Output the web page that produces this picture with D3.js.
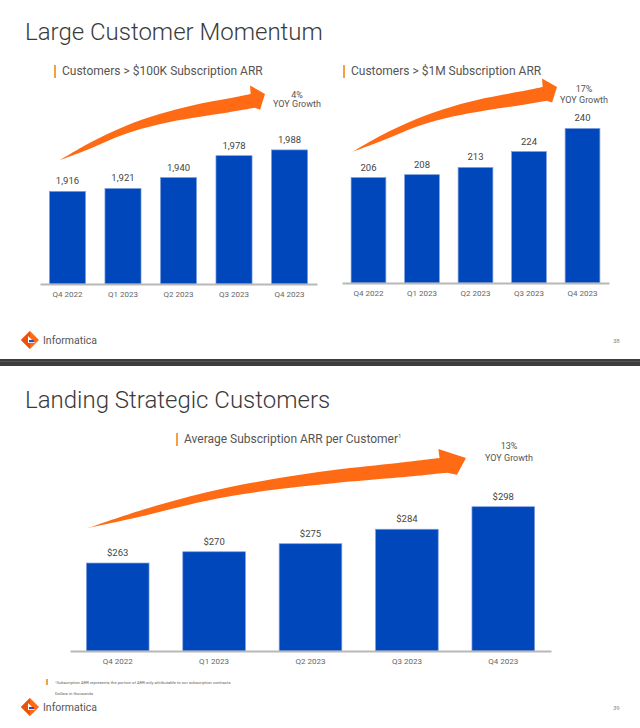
<!DOCTYPE html>
<html>
<head>
<meta charset="utf-8">
<script src="https://cdn.jsdelivr.net/npm/d3@7"></script>
<style>
  html, body { margin: 0; padding: 0; background: #fff; }
  svg { display: block; font-family: Roboto, "Noto Sans", sans-serif; }
</style>
</head>
<body>
<svg id="chart" width="640" height="728"></svg>
<script>
// ---------- data ----------
const categories = ["Q4 2022", "Q1 2023", "Q2 2023", "Q3 2023", "Q4 2023"];
const customers100K = [1916, 1921, 1940, 1978, 1988];
const customers1M = [206, 208, 213, 224, 240];
const avgSubscriptionARR = [263, 270, 275, 284, 298];
const growthLabels = ["4%", "17%", "13%"];
const pageTitles = ["Large Customer Momentum", "Landing Strategic Customers"];
const chartTitles = ["Customers > $100K Subscription ARR", "Customers >  $1M Subscription ARR", "Average Subscription ARR per Customer"];
const pageNumbers = ["38", "39"];
const footnotes = ["\u00B9Subscription ARR represents the portion of ARR only attributable to our subscription contracts", "Dollars in thousands"];

// ---------- style ----------
const BLUE = "#0047BB";
const ARROW = "#FF6B15";
const ACCENT = "#F5A040";
const TEXT = "#444";

const svg = d3.select("#chart");

// ---------- layout of panels ----------
const panels = [
  { values: customers100K, fmt: d3.format(","), domain: [1755, 2000],
    x0: 40, x1: 317, base: 284, top: 143, labelGap: 7,
    title: chartTitles[0], titleX: 62, titleY: 75,
    arrowT: [60, 160], arrowP: [265, 94],
    growth: growthLabels[0], gX: 297, gY: 97.5, gDy: 9.8 },
  { values: customers1M, fmt: d3.format(","), domain: [133, 250],
    x0: 342, x1: 609, base: 283, top: 114, labelGap: 7,
    title: chartTitles[1], titleX: 351, titleY: 75,
    arrowT: [352, 152], arrowP: [557, 87],
    growth: growthLabels[1], gX: 584, gY: 91.5, gDy: 11 },
  { values: avgSubscriptionARR, fmt: v => "$" + v, domain: [208.3, 300],
    x0: 70, x1: 551, base: 651, top: 503.5, labelGap: 7,
    title: chartTitles[2], titleX: 184, titleY: 443, sup: "1",
    arrowT: [88, 528], arrowP: [466, 458],
    growth: growthLabels[2], gX: 509, gY: 449, gDy: 11.6 }
];

// normalized swoosh arrow shape (u along x, v along y from tail to tip)
const upperEdge = [[0,0],[0.137,0.247],[0.314,0.509],[0.49,0.70],[0.65,0.83],[0.82,0.93],[0.93,1.0]];
const headPts = [[0.927,1.13],[1,1],[0.976,0.76]];
const lowerEdge = [[0.95,0.79],[0.82,0.72],[0.65,0.64],[0.49,0.545],[0.314,0.39],[0.137,0.16],[0,0]];

function arrowPath(T, P) {
  const sx = d3.scaleLinear().domain([0,1]).range([T[0], P[0]]);
  const sy = d3.scaleLinear().domain([0,1]).range([T[1], P[1]]);
  const m = d => [sx(d[0]), sy(d[1])];
  const line = d3.line().curve(d3.curveCatmullRom.alpha(0.5));
  const up = line(upperEdge.map(m));
  const lo = line(lowerEdge.map(m));
  const hd = headPts.map(m).map(p => "L" + p[0] + "," + p[1]).join("");
  return up + hd + "L" + lo.slice(1) + "Z";
}

// ---------- page titles ----------
svg.append("text").attr("x", 25).attr("y", 40).text(pageTitles[0])
  .attr("font-size", 24).attr("font-weight", 300).attr("fill", "#3a3a3a");
svg.append("text").attr("x", 25).attr("y", 408).text(pageTitles[1])
  .attr("font-size", 24).attr("font-weight", 300).attr("fill", "#3a3a3a");

// separator between slides
svg.append("rect").attr("x", 0).attr("y", 359).attr("width", 640).attr("height", 7).attr("fill", "#3d3d3d");
svg.append("rect").attr("x", 0).attr("y", 361).attr("width", 640).attr("height", 1).attr("fill", "#555");

// ---------- panels ----------
panels.forEach(p => {
  const g = svg.append("g");
  const x = d3.scaleBand().domain(categories).range([p.x0, p.x1])
    .paddingInner(0.35).paddingOuter(0.17);
  const y = d3.scaleLinear().domain(p.domain).range([p.base, p.top]);

  // chart title with accent bar
  g.append("rect").attr("x", p.titleX - 8).attr("y", p.titleY - 10).attr("width", 2).attr("height", 13).attr("fill", ACCENT);
  const t = g.append("text").attr("x", p.titleX).attr("y", p.titleY)
    .attr("font-size", 12).attr("fill", "#555").text(p.title);
  if (p.sup) t.append("tspan").attr("font-size", 6).attr("dy", -5).text(p.sup);

  // bars
  g.selectAll("rect.bar").data(p.values).join("rect").attr("class", "bar")
    .attr("x", (d, i) => x(categories[i]))
    .attr("y", d => y(d))
    .attr("width", x.bandwidth())
    .attr("height", d => p.base - y(d))
    .attr("fill", BLUE).attr("stroke", "#7d9fe0").attr("stroke-width", 0.7);

  // value labels
  g.selectAll("text.val").data(p.values).join("text").attr("class", "val")
    .attr("x", (d, i) => x(categories[i]) + x.bandwidth() / 2)
    .attr("y", d => y(d) - p.labelGap)
    .attr("text-anchor", "middle").attr("font-size", 9.5).attr("fill", TEXT)
    .text(d => p.fmt(d));

  // axis
  const axis = g.append("g").attr("transform", `translate(0,${p.base})`)
    .call(d3.axisBottom(x).tickSize(0).tickPadding(7.5));
  axis.select(".domain").attr("stroke", "#b8b8b8").attr("stroke-width", 2);
  axis.selectAll("text").attr("font-size", 8).attr("fill", "#666")
    .attr("font-family", "Roboto, sans-serif");

  // arrow
  g.append("path").attr("d", arrowPath(p.arrowT, p.arrowP)).attr("fill", ARROW);

  // growth label
  g.append("text").attr("x", p.gX).attr("y", p.gY).attr("text-anchor", "middle")
    .attr("font-size", 9).attr("fill", "#555").text(p.growth);
  g.append("text").attr("x", p.gX).attr("y", p.gY + p.gDy).attr("text-anchor", "middle")
    .attr("font-size", 9).attr("fill", "#555").text("YOY Growth");
});

// ---------- footnotes ----------
svg.append("rect").attr("x", 46).attr("y", 679).attr("width", 2).attr("height", 6).attr("fill", ACCENT);
svg.append("text").attr("x", 55).attr("y", 683.5).attr("font-size", 4.2).attr("fill", "#666").text(footnotes[0]);
svg.append("text").attr("x", 55).attr("y", 694.5).attr("font-size", 4.2).attr("fill", "#666").text(footnotes[1]);

// ---------- logos and page numbers ----------
function logo(cx, cy, pageNo) {
  const g = svg.append("g").attr("transform", `translate(${cx},${cy})`);
  g.append("path").attr("d", "M0,-9 L9,0 L0,9 L-9,0 Z").attr("fill", "#FF6A13");
  g.append("path").attr("d", "M-9,0 L0,-9 L0,9 Z").attr("fill", "#E8520C");
  g.append("path").attr("d", "M-2,-4 L-2,3 L5,3 Z").attr("fill", "#fff");
  g.append("rect").attr("x", -1).attr("y", 0).attr("width", 5).attr("height", 2.2).attr("fill", "#2C4FC8");
  svg.append("text").attr("x", cx + 13).attr("y", cy + 4).attr("font-size", 10.5)
    .attr("fill", "#555").text("Informatica");
  svg.append("text").attr("x", 613).attr("y", cy + 3).attr("font-size", 6)
    .attr("fill", "#888").text(pageNo);
}
logo(30, 340, pageNumbers[0]);
logo(30, 707, pageNumbers[1]);
</script>
</body>
</html>
